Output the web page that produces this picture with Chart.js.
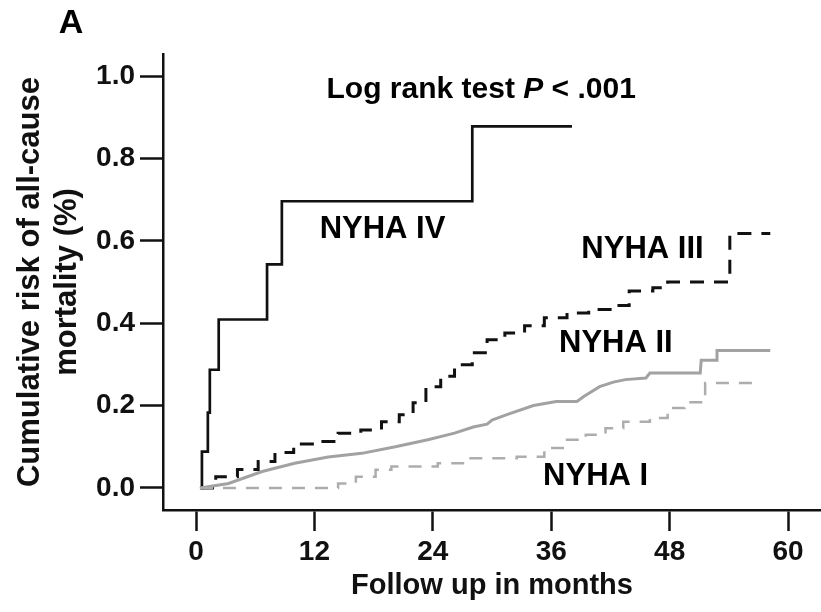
<!DOCTYPE html>
<html>
<head>
<meta charset="utf-8">
<title>Cumulative risk of all-cause mortality by NYHA class</title>
<script src="https://cdn.jsdelivr.net/npm/chart.js@4.4.1/dist/chart.umd.min.js"></script>
<style>
  html, body { margin: 0; padding: 0; background: #fff; }
  #wrap { width: 821px; height: 612px; }
</style>
</head>
<body>
<div id="wrap"><canvas id="kmChart" width="821" height="612"></canvas></div>
<script>
// Kaplan-Meier style curves (months, cumulative risk)
const nyha4Months = [0.5, 0.6, 1.2, 1.4, 2.3, 7.2, 8.7, 28.0, 38.1];
const nyha4Risk   = [0, 0.088, 0.183, 0.287, 0.409, 0.543, 0.696, 0.878, 0.878];

const nyha3Months = [0.4, 2.0, 4.2, 6.3, 8.0, 9.9, 12.2, 14.4, 16.7, 18.8, 20.6, 22.0, 23.3, 24.8,
                     26.2, 28.0, 29.5, 31.3, 33.3, 35.3, 37.6, 39.8, 42.3, 43.9, 46.3, 47.8, 54.1, 58.2];
const nyha3Risk   = [0, 0.027, 0.045, 0.064, 0.086, 0.107, 0.113, 0.133, 0.141, 0.161, 0.178, 0.207, 0.246, 0.271,
                     0.299, 0.328, 0.360, 0.376, 0.394, 0.413, 0.425, 0.433, 0.443, 0.478, 0.486, 0.500, 0.618, 0.618];

const nyha2Months = [0.4, 3.3, 6.7, 10.0, 13.4, 16.8, 20.2, 23.5, 26.2, 28.1, 29.5, 30.0, 31.5, 34.2,
                     36.5, 38.6, 39.3, 40.9, 42.3, 43.5, 45.6, 46.0, 51.1, 51.2, 52.7, 52.8, 58.2];
const nyha2Risk   = [0, 0.011, 0.040, 0.060, 0.075, 0.084, 0.100, 0.117, 0.133, 0.148, 0.155, 0.165, 0.178, 0.200,
                     0.210, 0.210, 0.222, 0.246, 0.257, 0.263, 0.267, 0.279, 0.279, 0.310, 0.310, 0.334, 0.334];

const nyha1Months = [0.4, 14.4, 16.2, 18.2, 19.8, 24.5, 27.5, 32.5, 35.3, 37.3, 39.5, 41.5, 43.3, 46.0,
                     47.8, 49.5, 51.6, 57.1];
const nyha1Risk   = [0, 0.011, 0.027, 0.044, 0.052, 0.060, 0.072, 0.076, 0.097, 0.117, 0.129, 0.145, 0.161, 0.170,
                     0.194, 0.208, 0.255, 0.255];

const xTicks = [0, 12, 24, 36, 48, 60];
const yTicks = [0, 0.2, 0.4, 0.6, 0.8, 1.0];

// curve labels placed in data space
const curveLabels = ['NYHA IV', 'NYHA III', 'NYHA II', 'NYHA I'];
const curveLabelX = [18.9, 45.25, 42.55, 40.5];
const curveLabelY = [0.628, 0.579, 0.352, 0.0275];

const FONT = '"Liberation Sans", Arial, Helvetica, sans-serif';

function toPoints(xs, ys) {
  return xs.map((x, i) => ({ x: x, y: ys[i] }));
}

// Draws panel letter, curve labels and the log-rank note
const annotationPlugin = {
  id: 'annotations',
  afterDatasetsDraw(chart) {
    const ctx = chart.ctx;
    const xs = chart.scales.x;
    const ys = chart.scales.y;
    ctx.save();
    ctx.fillStyle = '#000';
    ctx.textBaseline = 'middle';
    ctx.textAlign = 'center';

    ctx.font = 'bold 31px ' + FONT;
    curveLabels.forEach((txt, i) => {
      ctx.fillText(txt, xs.getPixelForValue(curveLabelX[i]), ys.getPixelForValue(curveLabelY[i]));
    });

    // "Log rank test P < .001" with italic P
    const parts = [
      { t: 'Log rank test ', f: 'bold 30px ' + FONT },
      { t: 'P', f: 'italic bold 30px ' + FONT },
      { t: ' < .001', f: 'bold 30px ' + FONT }
    ];
    let total = 0;
    parts.forEach(p => { ctx.font = p.f; p.w = ctx.measureText(p.t).width; total += p.w; });
    let px = xs.getPixelForValue(28.9) - total / 2;
    const py = ys.getPixelForValue(0.966);
    ctx.textAlign = 'left';
    parts.forEach(p => { ctx.font = p.f; ctx.fillText(p.t, px, py); px += p.w; });

    // panel letter
    ctx.textAlign = 'center';
    ctx.font = 'bold 34px ' + FONT;
    ctx.fillText('A', 71, 24);
    ctx.restore();
  }
};

const ctx = document.getElementById('kmChart').getContext('2d');

new Chart(ctx, {
  type: 'line',
  data: {
    datasets: [
      {
        label: 'NYHA I',
        data: toPoints(nyha1Months, nyha1Risk),
        borderColor: '#adadad',
        borderWidth: 2.5,
        borderDash: [13, 10],
        stepped: 'before'
      },
      {
        label: 'NYHA II',
        data: toPoints(nyha2Months, nyha2Risk),
        borderColor: '#a2a2a2',
        borderWidth: 3
      },
      {
        label: 'NYHA III',
        data: toPoints(nyha3Months, nyha3Risk),
        borderColor: '#111',
        borderWidth: 3,
        borderDash: [14, 10],
        stepped: 'before'
      },
      {
        label: 'NYHA IV',
        data: toPoints(nyha4Months, nyha4Risk),
        borderColor: '#111',
        borderWidth: 2.7,
        stepped: 'before'
      }
    ]
  },
  options: {
    responsive: false,
    animation: false,
    devicePixelRatio: 1,
    layout: { padding: { top: 54, right: 0, left: 0, bottom: 0 } },
    elements: { point: { radius: 0 }, line: { tension: 0, fill: false } },
    plugins: {
      legend: { display: false },
      tooltip: { enabled: false }
    },
    scales: {
      x: {
        type: 'linear',
        min: -3.345,
        max: 63.34,
        afterBuildTicks: scale => { scale.ticks = xTicks.map(v => ({ value: v })); },
        afterFit: scale => { scale.height = 102; },
        grid: {
          drawOnChartArea: false,
          drawTicks: true,
          tickLength: 21,
          tickWidth: 2.5,
          tickColor: '#111'
        },
        border: { display: true, color: '#111', width: 2.5 },
        ticks: {
          color: '#111',
          padding: 4,
          maxRotation: 0,
          font: { family: FONT, size: 28, weight: 'bold' },
          callback: v => String(v)
        },
        title: {
          display: true,
          text: 'Follow up in months',
          color: '#111',
          font: { family: FONT, size: 29, weight: 'bold' },
          padding: { top: 0, bottom: 9 }
        }
      },
      y: {
        type: 'linear',
        min: -0.0535,
        max: 1.0535,
        afterBuildTicks: scale => { scale.ticks = yTicks.map(v => ({ value: v })); },
        afterFit: scale => { scale.width = 163; },
        grid: {
          drawOnChartArea: false,
          drawTicks: true,
          tickLength: 23,
          tickWidth: 2.5,
          tickColor: '#111'
        },
        border: { display: true, color: '#111', width: 2.5 },
        ticks: {
          color: '#111',
          padding: 5,
          font: { family: FONT, size: 28, weight: 'bold' },
          callback: v => v.toFixed(1)
        },
        title: {
          display: true,
          text: ['Cumulative risk of all-cause', 'mortality (%)'],
          color: '#111',
          font: { family: FONT, size: 31, weight: 'bold', lineHeight: 1.2 },
          padding: { top: 12, bottom: 0 }
        }
      }
    }
  },
  plugins: [annotationPlugin]
});
</script>
</body>
</html>
